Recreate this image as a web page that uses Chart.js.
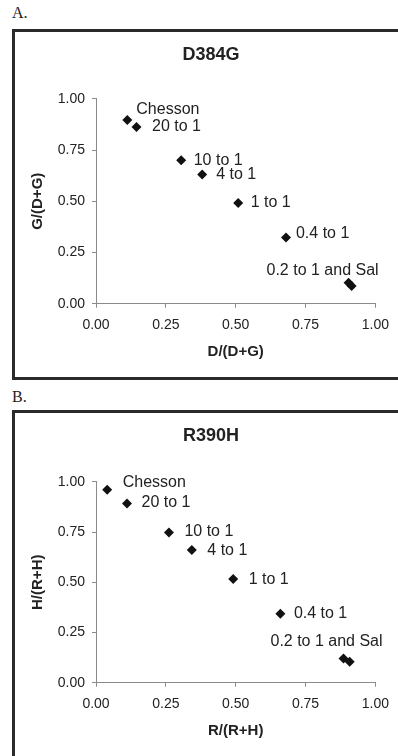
<!DOCTYPE html>
<html>
<head>
<meta charset="utf-8">
<script src="https://cdn.jsdelivr.net/npm/chart.js@4.4.0/dist/chart.umd.min.js"></script>
<style>
    html, body { margin: 0; padding: 0; background: #fff; overflow: hidden; }
    body { width: 398px; height: 756px; position: relative; }
    .panelLabel { position: absolute; left: 12px; font: 16px "Liberation Serif", "Times New Roman", serif; color: #222; line-height: 18px; }
    .box { position: absolute; left: 12px; width: 420px; border: 3px solid #2a2a2a; background: #fff; }
    .box canvas { position: absolute; left: 0; top: 0; }
</style>
</head>
<body>
<div class="panelLabel" style="top:4px">A.</div>
<div class="box" id="boxA" style="top:29px; height:345px;">
    <canvas id="grafA" width="383" height="345"></canvas>
</div>
<div class="panelLabel" style="top:388px">B.</div>
<div class="box" id="boxB" style="top:410px; height:380px;">
    <canvas id="grafB" width="383" height="343"></canvas>
</div>
<script>
// popisky bodu (stejne pro oba grafy)
const nazvyBodu = ['Chesson', '20 to 1', '10 to 1', '4 to 1', '1 to 1', '0.4 to 1', '0.2 to 1 and Sal', ''];

// A. D384G
const d384gX = [0.112, 0.145, 0.305, 0.380, 0.509, 0.680, 0.904, 0.915];
const d384gY = [0.897, 0.862, 0.700, 0.630, 0.492, 0.323, 0.102, 0.086];

// B. R390H
const r390hX = [0.040, 0.111, 0.261, 0.343, 0.491, 0.660, 0.886, 0.908];
const r390hY = [0.960, 0.892, 0.748, 0.660, 0.516, 0.343, 0.121, 0.104];

const hodnotyOs = [0, 0.25, 0.5, 0.75, 1];

// posuny popisku vuci bodu [dx, dy, zarovnani]
const posunyA = [[9, -10], [15.5, 0], [12.5, 0], [14, 0], [12.5, 0], [10, -3.5], [-26, -12, 'center'], null];
const posunyB = [[15.5, -7], [14.5, -1], [15.5, -0.5], [15.5, 0], [15.5, 0.5], [13.5, 0], [-17, -17, 'center'], null];

const pismo = '"Liberation Sans", Arial, sans-serif';
const barvaOsy = '#8a8a8a';
const barvaTextu = '#222';

const popiskyBodu = {
    id: 'popiskyBodu',
    afterDatasetsDraw(chart, args, opts) {
        const ctx = chart.ctx;
        const meta = chart.getDatasetMeta(0);
        ctx.save();
        ctx.font = '16px ' + pismo;
        ctx.fillStyle = barvaTextu;
        ctx.textBaseline = 'middle';
        opts.nazvy.forEach((nazev, i) => {
            const posun = opts.posuny[i];
            if (!nazev || !posun) return;
            const bod = meta.data[i];
            ctx.textAlign = posun[2] || 'left';
            ctx.fillText(nazev, bod.x + posun[0], bod.y + posun[1]);
        });
        ctx.restore();
    }
};

function nakresliGraf(idCanvasu, nadpis, osaX, osaY, hodnotyX, hodnotyY, posuny, nadpisDole) {
    const ctx = document.getElementById(idCanvasu).getContext('2d');
    const body = hodnotyX.map((x, i) => ({ x: x, y: hodnotyY[i] }));

    const spolecnaOsa = {
        type: 'linear',
        min: hodnotyOs[0],
        max: hodnotyOs[hodnotyOs.length - 1],
        afterBuildTicks: (osa) => { osa.ticks = hodnotyOs.map(v => ({ value: v })); },
        border: { display: true, color: barvaOsy, width: 1 },
        grid: { drawOnChartArea: false, drawTicks: true, tickLength: 4, color: barvaOsy },
        ticks: {
            color: barvaTextu,
            font: { family: pismo, size: 14 },
            callback: (v) => Number(v).toFixed(2)
        }
    };

    return new Chart(ctx, {
        type: 'scatter',
        data: {
            datasets: [{
                data: body,
                pointStyle: 'rectRot',
                pointRadius: 5,
                pointHoverRadius: 5,
                backgroundColor: '#111',
                borderColor: '#111',
                borderWidth: 0
            }]
        },
        options: {
            responsive: false,
            animation: false,
            events: [],
            // levy okraj 27 posune nadpis grafu doprava jako v originalu
            layout: { padding: { left: 27, right: 18, top: 0, bottom: 16 } },
            plugins: {
                legend: { display: false },
                tooltip: { enabled: false },
                title: {
                    display: true,
                    text: nadpis,
                    color: barvaTextu,
                    font: { family: pismo, size: 18, weight: 'bold' },
                    padding: { top: 12, bottom: nadpisDole }
                },
                popiskyBodu: { nazvy: nazvyBodu, posuny: posuny }
            },
            scales: {
                x: Object.assign({}, spolecnaOsa, {
                    position: 'bottom',
                    afterFit: (osa) => { osa.height = 57.3; },
                    ticks: Object.assign({}, spolecnaOsa.ticks, { padding: 9, maxRotation: 0 }),
                    title: {
                        display: true,
                        text: osaX,
                        color: barvaTextu,
                        font: { family: pismo, size: 15, weight: 'bold' },
                        padding: { top: 0, bottom: 0 }
                    }
                }),
                y: Object.assign({}, spolecnaOsa, {
                    position: 'left',
                    afterFit: (osa) => { osa.width = 54; },
                    ticks: Object.assign({}, spolecnaOsa.ticks, { padding: 7 }),
                    title: {
                        display: true,
                        text: osaY,
                        color: barvaTextu,
                        font: { family: pismo, size: 15, weight: 'bold' },
                        padding: { top: -13, bottom: 0 }
                    }
                })
            }
        },
        plugins: [popiskyBodu]
    });
}

document.addEventListener('DOMContentLoaded', () => {
    nakresliGraf('grafA', 'D384G', 'D/(D+G)', 'G/(D+G)', d384gX, d384gY, posunyA, 33.2);
    nakresliGraf('grafB', 'R390H', 'R/(R+H)', 'H/(R+H)', r390hX, r390hY, posunyB, 35.2);
});
</script>
</body>
</html>
